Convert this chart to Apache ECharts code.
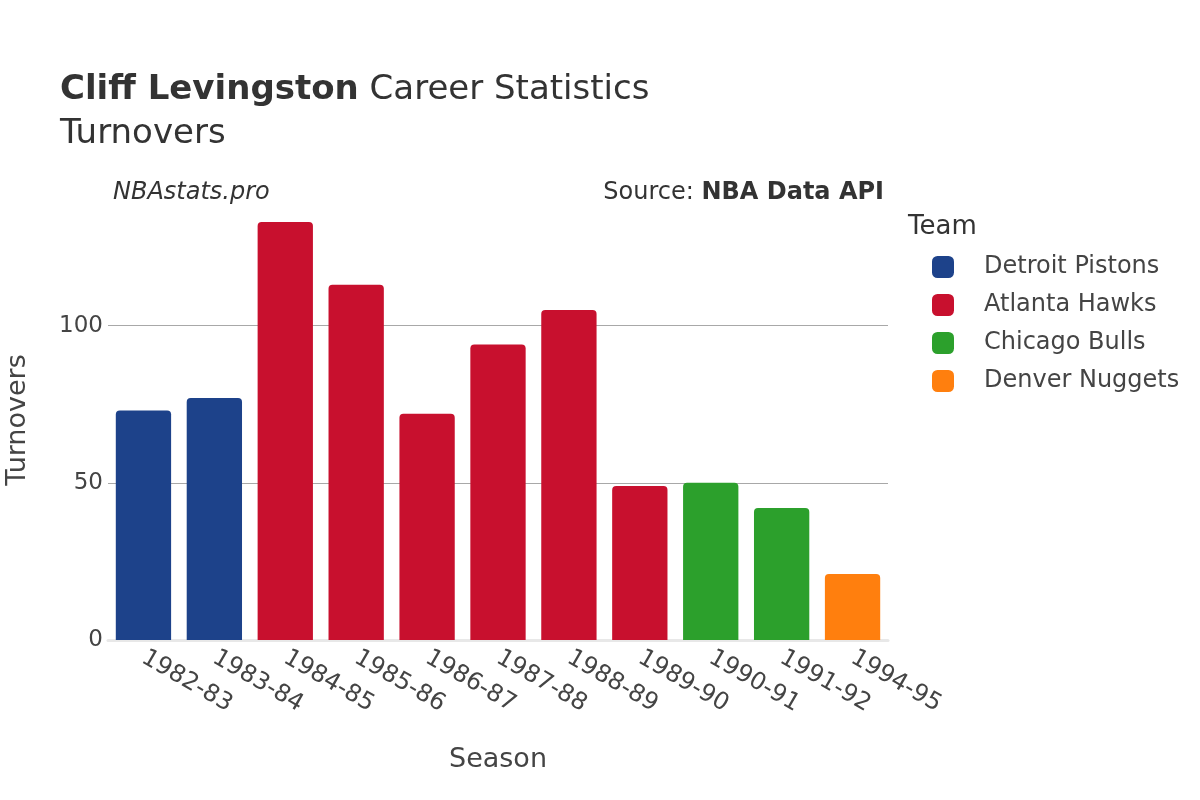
<!DOCTYPE html>
<html>
<head>
<meta charset="utf-8">
<script src="https://cdn.jsdelivr.net/npm/echarts@6/dist/echarts.min.js"></script>
<style>
html,body{margin:0;padding:0;background:#fff;}
#chart{width:1200px;height:800px;}
</style>
</head>
<body>
<div id="chart"></div>
<script>
const seasons = ['1982-83','1983-84','1984-85','1985-86','1986-87','1987-88','1988-89','1989-90','1990-91','1991-92','1994-95'];
const seasonTeams = ['Detroit Pistons','Detroit Pistons','Atlanta Hawks','Atlanta Hawks','Atlanta Hawks','Atlanta Hawks','Atlanta Hawks','Atlanta Hawks','Chicago Bulls','Chicago Bulls','Denver Nuggets'];
const turnovers = [73, 77, 133, 113, 72, 94, 105, 49, 50, 42, 21];
const teams = ['Detroit Pistons','Atlanta Hawks','Chicago Bulls','Denver Nuggets'];
const teamColors = ['#1d428a','#c8102e','#2ca02c','#ff7f0e'];
const yTicks = [0, 50, 100];

const FONT = '"DejaVu Sans", sans-serif';

const series = teams.map((t, i) => ({
  name: t,
  type: 'bar',
  stack: 'all',
  barCategoryGap: '22%',
  itemStyle: { color: teamColors[i], borderRadius: [4,4,0,0] },
  data: seasons.map((s, j) => seasonTeams[j] === t ? turnovers[j] : null)
}));

const chart = echarts.init(document.getElementById('chart'));
chart.setOption({
  backgroundColor: '#fff',
  animation: false,
  textStyle: { fontFamily: FONT },
  title: [
    {
      left: 60, top: 68, padding: 0,
      text: '{b|Cliff Levingston} {n|Career Statistics}\n{n|Turnovers}',
      textStyle: {
        fontFamily: FONT, fontWeight: 'normal', fontSize: 34, color: '#333',
        rich: {
          b: { fontFamily: FONT, fontSize: 34, fontWeight: 'bold', color: '#333', lineHeight: 44 },
          n: { fontFamily: FONT, fontSize: 34, fontWeight: 'normal', color: '#333', lineHeight: 44 }
        }
      }
    },
    {
      left: 113, top: 181, padding: 0,
      text: 'NBAstats.pro',
      textStyle: { fontFamily: FONT, fontSize: 24, fontStyle: 'italic', fontWeight: 'normal', color: '#333' }
    },
    {
      right: 316, top: 181, padding: 0,
      text: '{n|Source: }{b|NBA Data API}',
      textStyle: {
        fontFamily: FONT, fontWeight: 'normal', fontSize: 24, color: '#333',
        rich: {
          n: { fontFamily: FONT, fontSize: 24, fontWeight: 'normal', color: '#333' },
          b: { fontFamily: FONT, fontSize: 24, fontWeight: 'bold', color: '#333' }
        }
      }
    },
    {
      left: 908, top: 214, padding: 0,
      text: 'Team',
      textStyle: { fontFamily: FONT, fontSize: 26, fontWeight: 'normal', color: '#333' }
    }
  ],
  legend: {
    orient: 'vertical',
    left: 932, top: 255, padding: 0,
    itemWidth: 22, itemHeight: 22, itemGap: 14,
    icon: 'roundRect',
    textStyle: { fontFamily: FONT, fontSize: 24, color: '#444', padding: [0,0,0,25] },
    data: teams
  },
  grid: { left: 108, right: 312, top: 200, bottom: 160, containLabel: false, outerBoundsMode: 'none' },
  xAxis: {
    type: 'category',
    data: seasons,
    name: 'Season',
    nameLocation: 'middle',
    nameGap: 106,
    nameTextStyle: { fontFamily: FONT, fontSize: 27, color: '#444' },
    axisLine: { show: true, lineStyle: { color: '#e8e8e8', width: 3 } },
    axisTick: { show: false },
    axisLabel: { rotate: -30, fontSize: 24, color: '#444', margin: 16, fontFamily: FONT }
  },
  yAxis: {
    type: 'value',
    min: 0, max: 140, interval: 50,
    name: 'Turnovers',
    nameLocation: 'middle',
    nameGap: 77,
    nameTextStyle: { fontFamily: FONT, fontSize: 27, color: '#444' },
    axisLine: { show: false },
    axisTick: { show: false },
    axisLabel: {
      fontSize: 23, color: '#444', margin: 5, fontFamily: FONT, showMaxLabel: false,
      formatter: v => yTicks.includes(v) ? String(v) : ''
    },
    splitLine: { show: true, showMaxLine: false, lineStyle: { color: '#a8a8a8', width: 1 } }
  },
  series: series
});
</script>
</body>
</html>
